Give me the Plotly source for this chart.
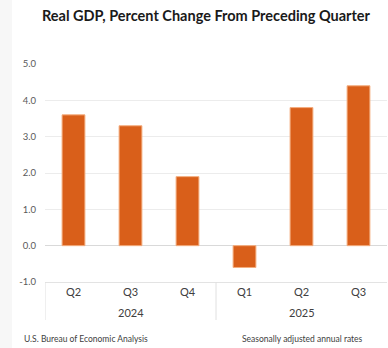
import plotly.graph_objects as go

quarters = ["Q2", "Q3", "Q4", "Q1", "Q2", "Q3"]
years = ["2024", "2024", "2024", "2025", "2025", "2025"]
values = [3.6, 3.3, 1.9, -0.6, 3.8, 4.4]
y_ticks = [-1, 0, 1, 2, 3, 4, 5]
y_ticktext = ["-1.0", "0.0", "1.0", "2.0", "3.0", "4.0", "5.0"]
title_text = "Real GDP, Percent Change From Preceding Quarter"
source_text = "U.S. Bureau of Economic Analysis"
note_text = "Seasonally adjusted annual rates"

W, H = 388, 348
L, R, T, B = 45, 1, 64, 66
pw, ph = W - L - R, H - T - B

FONT = "Lato, 'Open Sans', sans-serif"
idx = list(range(len(values)))

fig = go.Figure()
fig.add_trace(go.Bar(
    x=idx, y=values, width=0.4,
    marker=dict(color="#D95F1A", line=dict(color="#F4AD7E", width=1)),
    hoverinfo="skip",
))

# year group labels and separators
groups = []
for i, yv in enumerate(years):
    if not groups or groups[-1][0] != yv:
        groups.append([yv, i, i])
    else:
        groups[-1][2] = i

annotations = []
shapes = []
sep_bottom = -(320 - 282) / ph
for g, (yv, i0, i1) in enumerate(groups):
    annotations.append(dict(
        x=(i0 + i1) / 2, y=-(312 - 282) / ph, xref="x", yref="paper",
        text=yv, showarrow=False, font=dict(size=11, color="#404040", family=FONT),
        xanchor="center", yanchor="middle"))
    shapes.append(dict(type="line", xref="x", yref="paper",
                       x0=i0 - 0.5, x1=i0 - 0.5, y0=0, y1=sep_bottom,
                       line=dict(color="#e0e0e0", width=1)))

# left pale strip
shapes.append(dict(type="rect", xref="paper", yref="paper",
                   x0=(0 - L) / pw, x1=(12 - L) / pw, y0=(0 - B) / ph - 0.01, y1=1 + T / ph + 0.01,
                   fillcolor="#f7f7f7", line=dict(width=0), layer="below"))

annotations.append(dict(
    x=(22 - L) / pw, y=-(339 - 282) / ph, xref="paper", yref="paper",
    text=source_text, showarrow=False, font=dict(size=8.5, color="#404040", family=FONT),
    xanchor="left", yanchor="middle"))
annotations.append(dict(
    x=(240 - L) / pw, y=-(339 - 282) / ph, xref="paper", yref="paper",
    text=note_text, showarrow=False, font=dict(size=8.5, color="#404040", family=FONT),
    xanchor="left", yanchor="middle"))

fig.update_layout(
    width=W, height=H,
    margin=dict(l=L, r=R, t=T, b=B),
    paper_bgcolor="white", plot_bgcolor="white",
    showlegend=False,
    title=dict(text="<b>" + title_text + "</b>", x=206 / W, xanchor="center",
               y=1 - 16 / H, yanchor="middle",
               font=dict(size=14.5, color="#1a1a1a", family=FONT)),
    xaxis=dict(
        tickmode="array", tickvals=idx, ticktext=quarters,
        range=[-0.5, len(values) - 0.5],
        showgrid=False, zeroline=False,
        showline=True, linecolor="#e3e3e3", linewidth=1,
        ticks="", ticklabelstandoff=0,
        tickfont=dict(size=11, color="#404040", family=FONT),
        fixedrange=True,
    ),
    yaxis=dict(
        range=[-1, 5], tickmode="array", tickvals=y_ticks, ticktext=y_ticktext,
        showgrid=True, gridcolor="#ececec", gridwidth=1,
        zeroline=True, zerolinecolor="#d9d9d9", zerolinewidth=1,
        showline=False, ticks="", ticklabelstandoff=8,
        tickfont=dict(size=9.5, color="#595959", family=FONT),
        fixedrange=True,
    ),
    annotations=annotations,
    shapes=shapes,
)

fig.write_html("out.html")
